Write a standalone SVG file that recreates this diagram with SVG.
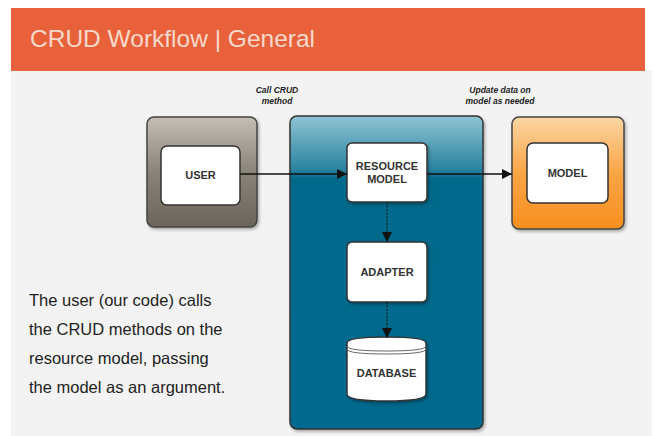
<svg xmlns="http://www.w3.org/2000/svg" width="653" height="436" viewBox="0 0 653 436">
<defs>
<linearGradient id="gUser" x1="0" y1="0" x2="0" y2="1">
<stop offset="0" stop-color="#c4beb4"/>
<stop offset="0.5" stop-color="#8a8378"/>
<stop offset="1" stop-color="#6b645a"/>
</linearGradient>
<linearGradient id="gBlue" x1="0" y1="0" x2="0" y2="1">
<stop offset="0" stop-color="#8fc4d4"/>
<stop offset="0.17" stop-color="#2a84a1"/>
<stop offset="0.2" stop-color="#036a8c"/>
<stop offset="1" stop-color="#006a8e"/>
</linearGradient>
<linearGradient id="gOrange" x1="0" y1="0" x2="0" y2="1">
<stop offset="0" stop-color="#fcd6a3"/>
<stop offset="0.5" stop-color="#f9a446"/>
<stop offset="1" stop-color="#f7901e"/>
</linearGradient>
<marker id="arr" viewBox="0 0 10 10" refX="10" refY="5" markerWidth="10" markerHeight="10" markerUnits="userSpaceOnUse" orient="auto">
<path d="M0,0 L10,5 L0,10 z" fill="#111"/>
</marker>
<filter id="sh" x="-10%" y="-10%" width="125%" height="125%">
<feDropShadow dx="1.5" dy="2" stdDeviation="1.5" flood-color="#000" flood-opacity="0.3"/>
</filter>
</defs>
<style>
.lbl{font-family:"Liberation Sans",Arial,sans-serif;font-weight:bold;font-size:11px;fill:#333;text-anchor:middle}
.note{font-family:"Liberation Sans",Arial,sans-serif;font-weight:bold;font-style:italic;font-size:8.5px;fill:#222;text-anchor:middle}
.body{font-family:"Liberation Sans",Arial,sans-serif;font-size:16.5px;fill:#222}
.inner{fill:#fff;stroke:#333;stroke-width:1.5}
.conn{stroke:#111;stroke-width:1.5;fill:none}
.dot{stroke:#111;stroke-width:1;stroke-dasharray:2,1.5;fill:none}
</style>
<rect x="0" y="0" width="653" height="436" fill="#ffffff"/>
<rect x="11" y="71" width="641" height="365" fill="#f3f3f3"/>
<g id="header">
<rect x="11" y="8" width="634" height="63" fill="#e8613a"/>
<text x="30" y="47" font-family="Liberation Sans, Arial, sans-serif" font-size="24.5" fill="#f7d9cc">CRUD Workflow | General</text>
</g>
<g id="user">
<rect x="147" y="117" width="110" height="110" rx="7" fill="url(#gUser)" stroke="#444" stroke-width="1.5" filter="url(#sh)"/>
<rect class="inner" x="161" y="146" width="79" height="59" rx="6"/>
<text class="lbl" x="200.5" y="179">USER</text>
</g>
<g id="container">
<rect x="290" y="116" width="193" height="313" rx="7" fill="url(#gBlue)" stroke="#333" stroke-width="1.5" filter="url(#sh)"/>
</g>
<g id="model">
<rect x="512" y="117" width="112" height="112" rx="7" fill="url(#gOrange)" stroke="#444" stroke-width="1.5" filter="url(#sh)"/>
<rect class="inner" x="527" y="143" width="81" height="60" rx="6"/>
<text class="lbl" x="567.5" y="177">MODEL</text>
</g>
<g id="resource-model">
<rect class="inner" x="347" y="143" width="80" height="59" rx="5" filter="url(#sh)"/>
<text class="lbl" x="387" y="170">RESOURCE</text>
<text class="lbl" x="387" y="183">MODEL</text>
</g>
<g id="adapter">
<rect class="inner" x="347" y="242" width="80" height="60" rx="5" filter="url(#sh)"/>
<text class="lbl" x="387" y="276">ADAPTER</text>
</g>
<g id="database">
<path d="M347,343 L347,394 Q347,401 386.5,401 Q426,401 426,394 L426,343 Q426,337 386.5,337 Q347,337 347,343 Z" fill="#fff" stroke="#333" stroke-width="1.5" filter="url(#sh)"/>
<path d="M347,346 Q347,351 386.5,351 Q426,351 426,346" fill="none" stroke="#666" stroke-width="1"/>
<path d="M347,349 Q347,354 386.5,354 Q426,354 426,349" fill="none" stroke="#666" stroke-width="1"/>
<text class="lbl" x="386.5" y="377">DATABASE</text>
</g>
<g id="connectors">
<line class="conn" x1="240" y1="174" x2="347" y2="174" marker-end="url(#arr)"/>
<line class="conn" x1="427" y1="174" x2="512" y2="174" marker-end="url(#arr)"/>
<line class="dot" x1="387" y1="202" x2="387" y2="242" marker-end="url(#arr)"/>
<line class="dot" x1="387" y1="302" x2="387" y2="338" marker-end="url(#arr)"/>
</g>
<g id="labels">
<text class="note" x="277" y="93">Call CRUD</text>
<text class="note" x="277" y="104">method</text>
<text class="note" x="500" y="93">Update data on</text>
<text class="note" x="500" y="104">model as needed</text>
</g>
<g id="description">
<text class="body" x="29" y="306">The user (our code) calls</text>
<text class="body" x="29" y="335">the CRUD methods on the</text>
<text class="body" x="29" y="364">resource model, passing</text>
<text class="body" x="29" y="393">the model as an argument.</text>
</g>
</svg>
